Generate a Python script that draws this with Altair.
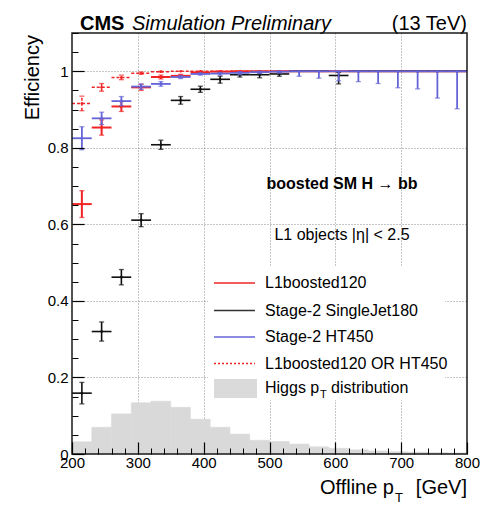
import altair as alt
import pandas as pd

# ---------------- data ----------------
bin_lo = [200, 230, 260, 290, 320, 350, 380, 410, 440, 470,
          500, 530, 560, 590, 620, 650, 680, 710, 740, 770]
bin_hi = [230, 260, 290, 320, 350, 380, 410, 440, 470, 500,
          530, 560, 590, 620, 650, 680, 710, 740, 770, 800]

higgs_pt = [0.032, 0.070, 0.105, 0.134, 0.138, 0.122, 0.091, 0.070, 0.052, 0.036,
            0.033, 0.026, 0.019, 0.015, 0.011, 0.008, 0.006, 0.005, 0.004, 0.003]

# L1boosted120
eff_boost = [0.653, 0.853, 0.908, 0.958, 0.985, 0.988, 0.997, 0.999, 1.0, 1.0,
             1.0, 1.0, 1.0, 1.0, 1.0, 1.0, 1.0, 1.0, 1.0, 1.0]
elo_boost = [0.035, 0.020, 0.013, 0.008, 0.005, 0.004, 0.003, 0.002, 0.0, 0.0,
             0.0, 0.0, 0.0, 0.0, 0.0, 0.0, 0.0, 0.0, 0.0, 0.0]
ehi_boost = [0.035, 0.020, 0.013, 0.008, 0.005, 0.004, 0.003, 0.001, 0.0, 0.0,
             0.0, 0.0, 0.0, 0.0, 0.0, 0.0, 0.0, 0.0, 0.0, 0.0]

# Stage-2 SingleJet180
eff_jet = [0.159, 0.320, 0.462, 0.611, 0.808, 0.924, 0.953, 0.979, 0.991, 0.991,
           0.993, 1.0, 1.0, 0.989, 1.0, 1.0, 1.0, 1.0, 1.0, 1.0]
elo_jet = [0.028, 0.025, 0.020, 0.017, 0.012, 0.010, 0.008, 0.010, 0.006, 0.008,
           0.006, 0.0, 0.0, 0.022, 0.0, 0.0, 0.0, 0.0, 0.0, 0.0]
ehi_jet = [0.028, 0.025, 0.020, 0.017, 0.012, 0.010, 0.008, 0.008, 0.005, 0.005,
           0.005, 0.0, 0.0, 0.008, 0.0, 0.0, 0.0, 0.0, 0.0, 0.0]

# Stage-2 HT450
eff_ht = [0.825, 0.877, 0.922, 0.960, 0.967, 0.985, 0.993, 0.994, 0.996, 0.998,
          0.999, 1.0, 1.0, 1.0, 1.0, 1.0, 1.0, 1.0, 1.0, 1.0]
elo_ht = [0.030, 0.016, 0.012, 0.007, 0.006, 0.004, 0.003, 0.004, 0.005, 0.004,
          0.004, 0.013, 0.018, 0.025, 0.027, 0.032, 0.043, 0.046, 0.070, 0.098]
ehi_ht = [0.030, 0.016, 0.012, 0.007, 0.006, 0.004, 0.003, 0.003, 0.003, 0.002,
          0.001, 0.0, 0.0, 0.0, 0.0, 0.0, 0.0, 0.0, 0.0, 0.0]

# L1boosted120 OR HT450
eff_or = [0.916, 0.958, 0.984, 0.995, 0.999, 1.0, 1.0, 1.0, 1.0, 1.0,
          1.0, 1.0, 1.0, 1.0, 1.0, 1.0, 1.0, 1.0, 1.0, 1.0]
elo_or = [0.019, 0.010, 0.006, 0.003, 0.001, 0.0, 0.0, 0.0, 0.0, 0.0,
          0.0, 0.0, 0.0, 0.0, 0.0, 0.0, 0.0, 0.0, 0.0, 0.0]
ehi_or = [0.019, 0.010, 0.006, 0.003, 0.001, 0.0, 0.0, 0.0, 0.0, 0.0,
          0.0, 0.0, 0.0, 0.0, 0.0, 0.0, 0.0, 0.0, 0.0, 0.0]

x_major = [200, 300, 400, 500, 600, 700, 800]
x_minor = [220, 240, 260, 280, 320, 340, 360, 380, 420, 440, 460, 480,
           520, 540, 560, 580, 620, 640, 660, 680, 720, 740, 760, 780]
x_grid = [300, 400, 500, 600, 700]
y_major = [0, 0.2, 0.4, 0.6, 0.8, 1.0]
y_minor = [0.05, 0.1, 0.15, 0.25, 0.3, 0.35, 0.45, 0.5, 0.55, 0.65, 0.7, 0.75,
           0.85, 0.9, 0.95, 1.05, 1.1]
y_grid = [0.2, 0.4, 0.6, 0.8, 1.0]

# ---------------- layout constants ----------------
W, H = 395, 421
FONT = "Liberation Sans"
RED = "#f02424"
BLUE = "#6464d8"
BLACK = "#111111"
GRAY = "#d9d9d9"

xs = alt.Scale(domain=[200, 800], nice=False, zero=False)
ys = alt.Scale(domain=[0, 1.1], nice=False, zero=False)


def X(f):
    return alt.X(f"{f}:Q", scale=xs, axis=None)


def Y(f):
    return alt.Y(f"{f}:Q", scale=ys, axis=None)


def make_df(eff, elo, ehi):
    return pd.DataFrame({
        "lo": bin_lo, "hi": bin_hi,
        "c": [(a + b) / 2 for a, b in zip(bin_lo, bin_hi)],
        "eff": eff,
        "ylo": [e - d for e, d in zip(eff, elo)],
        "yhi": [e + d for e, d in zip(eff, ehi)],
        "elo": elo, "ehi": ehi,
    })


def series(df, color, width, dash=None):
    kw = dict(color=color, strokeWidth=width)
    if dash is not None:
        kw["strokeDash"] = dash
    base = alt.Chart(df)
    hbar = base.mark_rule(**kw).encode(x=X("lo"), x2=alt.X2("hi"), y=Y("eff"))
    vbar = base.mark_rule(**kw).encode(x=X("c"), y=Y("ylo"), y2=alt.Y2("yhi"))
    cap_lo = base.transform_filter("datum.elo > 0").mark_tick(
        orient="horizontal", size=5, thickness=1.3, color=color
    ).encode(x=X("c"), y=Y("ylo"))
    cap_hi = base.transform_filter("datum.ehi > 0").mark_tick(
        orient="horizontal", size=5, thickness=1.3, color=color
    ).encode(x=X("c"), y=Y("yhi"))
    dot = base.mark_circle(size=7, color=color, opacity=1).encode(x=X("c"), y=Y("eff"))
    return [hbar, vbar, cap_lo, cap_hi, dot]


one = pd.DataFrame({"a": [0]})
hist_df = pd.DataFrame({"lo": bin_lo, "hi": bin_hi,
                        "c": [(a + b) / 2 for a, b in zip(bin_lo, bin_hi)],
                        "h": higgs_pt, "base": [0.0] * len(bin_lo)})


def carrier(xaxis, yaxis):
    return alt.Chart(hist_df).mark_point(opacity=0).encode(
        x=alt.X("c:Q", scale=xs, axis=xaxis),
        y=alt.Y("h:Q", scale=ys, axis=yaxis),
    )


grid_layer = carrier(
    alt.Axis(orient="bottom", values=x_grid, grid=True, gridColor="#8a8a8a",
             gridDash=[1, 2], gridWidth=1, ticks=False, labels=False,
             domain=False, title=None, zindex=0),
    alt.Axis(orient="left", values=y_grid, grid=True, gridColor="#8a8a8a",
             gridDash=[1, 2], gridWidth=1, ticks=False, labels=False,
             domain=False, title=None, zindex=0),
)

minor_layer = carrier(
    alt.Axis(orient="bottom", values=x_minor, offset=-6, tickSize=6,
             tickColor="black", tickWidth=1, labels=False, domain=False,
             grid=False, title=None, zindex=1),
    alt.Axis(orient="left", values=y_minor, offset=-6, tickSize=6,
             tickColor="black", tickWidth=1, labels=False, domain=False,
             grid=False, title=None, zindex=1),
)

major_layer = carrier(
    alt.Axis(orient="bottom", values=x_major, offset=-12, tickSize=12,
             tickColor="black", tickWidth=1.2, labelPadding=1,
             labelFont=FONT, labelFontSize=15, labelColor="black",
             labelFlush=False, labelOverlap=False, format="d",
             domain=False, grid=False, title=None, zindex=1),
    alt.Axis(orient="left", values=y_major, offset=-12, tickSize=12,
             tickColor="black", tickWidth=1.2, labelPadding=4,
             labelFont=FONT, labelFontSize=15, labelColor="black",
             labelFlush=False, labelOverlap=False, format="~g",
             domain=False, grid=False, title=None, zindex=1),
)

hist = alt.Chart(hist_df).mark_rect(color=GRAY, stroke=GRAY, strokeWidth=0.5).encode(
    x=X("lo"), x2=alt.X2("hi"), y=Y("h"), y2=alt.Y2("base")
)


def text(t, x, y, size=16, align="left", baseline="middle", weight="normal",
         style="normal", angle=0):
    kw = dict(text=t, font=FONT, fontSize=size, align=align, baseline=baseline,
              fontWeight=weight, fontStyle=style, color="black")
    if angle:
        kw["angle"] = angle
    return alt.Chart(one).mark_text(**kw).encode(x=alt.value(x), y=alt.value(y))


def box(x1, x2, y1, y2, **kw):
    return alt.Chart(one).mark_rect(**kw).encode(
        x=alt.value(x1), x2=alt.value(x2), y=alt.value(y1), y2=alt.value(y2))


def leg_line(y, color, width, dash=None):
    kw = dict(color=color, strokeWidth=width)
    if dash is not None:
        kw["strokeDash"] = dash
    return alt.Chart(one).mark_rule(**kw).encode(
        x=alt.value(142), x2=alt.value(183), y=alt.value(y))


legend_bg = box(136, 373, 233, 367, fill="white")

legend = [
    leg_line(250, RED, 1.5), text("L1boosted120", 193, 250),
    leg_line(277.5, "#333333", 1.5), text("Stage-2 SingleJet180", 193, 277.5),
    leg_line(304, BLUE, 1.5), text("Stage-2 HT450", 193, 304),
    leg_line(330.5, RED, 1.5, [2, 2]), text("L1boosted120 OR HT450", 193, 330.5),
    box(142, 185, 346, 365, fill="#dadada"),
    text("Higgs p", 193, 355), text("T", 248, 362, size=11),
    text("distribution", 259, 355),
]

annotations = [
    text("boosted SM H \u2192 bb", 270, 151, weight="bold", align="center"),
    text("L1 objects |\u03b7| < 2.5", 270, 202, align="center"),
    text("CMS", 8, -3, size=20, weight="bold", baseline="alphabetic"),
    text("Simulation Preliminary", 60, -3, size=20, style="italic", baseline="alphabetic"),
    text("(13 TeV)", 395, -3, size=20, align="right", baseline="alphabetic"),
    text("Efficiency", -39, 2, size=20, align="right", angle=270),
    text("[GeV]", 395, 461, size=20, align="right", baseline="alphabetic"),
    text("T", 323, 469, size=13, baseline="alphabetic"),
    text("Offline p", 322, 461, size=20, align="right", baseline="alphabetic"),
]

frame = box(0, W, 0, H, fill="white", fillOpacity=0, stroke="#1a1a1a", strokeWidth=1.5)

layers = (
    [grid_layer, legend_bg, hist]
    + series(make_df(eff_or, elo_or, ehi_or), RED, 1.5, [3, 2])
    + series(make_df(eff_boost, elo_boost, ehi_boost), RED, 2)
    + series(make_df(eff_jet, elo_jet, ehi_jet), BLACK, 1.6)
    + series(make_df(eff_ht, elo_ht, ehi_ht), BLUE, 1.8)
    + legend + annotations
    + [minor_layer, major_layer, frame]
)

chart = alt.layer(*layers).resolve_axis(
    x="independent", y="independent"
).properties(
    width=W, height=H,
    padding={"left": 64, "top": 25, "right": 15, "bottom": 51},
    autosize=alt.AutoSizeParams(type="none"),
    background="white",
).configure_view(stroke=None)

chart.save("out.html", embed_options={"renderer": "svg", "actions": False})
